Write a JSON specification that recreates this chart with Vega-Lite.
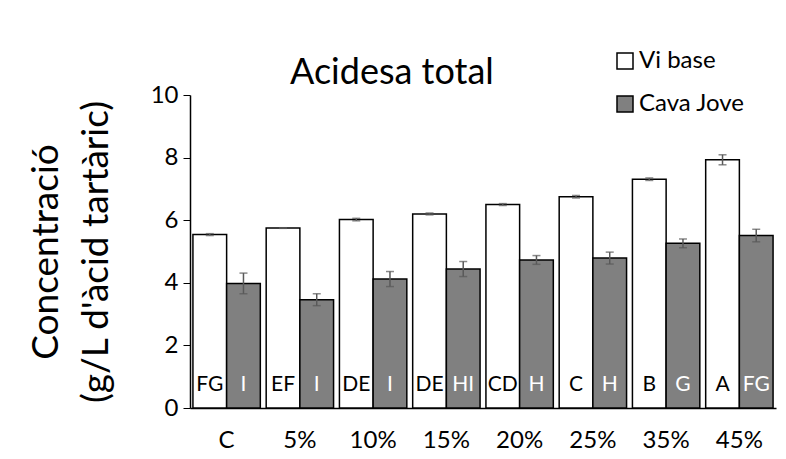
{
  "$schema": "https://vega.github.io/schema/vega-lite/v6.json",
  "width": 586,
  "height": 313,
  "autosize": "none",
  "padding": {"left": 190, "top": 95, "right": 10, "bottom": 51},
  "background": "white",
  "config": {"font": "Lato", "view": {"stroke": null}},
  "title": {"text": "Acidesa total", "fontSize": 36, "fontWeight": "normal", "anchor": "start", "frame": "group", "dx": 100, "dy": 55, "offset": 12, "color": "black"},
  "data": {"values": [
    {"cat": "C", "serie": "Vi base", "value": 5.54, "lo": 5.51, "hi": 5.57, "letter": "FG"},
    {"cat": "C", "serie": "Cava Jove", "value": 3.98, "lo": 3.65, "hi": 4.31, "letter": "I"},
    {"cat": "5%", "serie": "Vi base", "value": 5.75, "lo": 5.74, "hi": 5.76, "letter": "EF"},
    {"cat": "5%", "serie": "Cava Jove", "value": 3.46, "lo": 3.27, "hi": 3.65, "letter": "I"},
    {"cat": "10%", "serie": "Vi base", "value": 6.02, "lo": 5.98, "hi": 6.06, "letter": "DE"},
    {"cat": "10%", "serie": "Cava Jove", "value": 4.12, "lo": 3.88, "hi": 4.36, "letter": "I"},
    {"cat": "15%", "serie": "Vi base", "value": 6.20, "lo": 6.17, "hi": 6.23, "letter": "DE"},
    {"cat": "15%", "serie": "Cava Jove", "value": 4.44, "lo": 4.20, "hi": 4.68, "letter": "HI"},
    {"cat": "20%", "serie": "Vi base", "value": 6.50, "lo": 6.47, "hi": 6.53, "letter": "CD"},
    {"cat": "20%", "serie": "Cava Jove", "value": 4.73, "lo": 4.59, "hi": 4.87, "letter": "H"},
    {"cat": "25%", "serie": "Vi base", "value": 6.75, "lo": 6.71, "hi": 6.79, "letter": "C"},
    {"cat": "25%", "serie": "Cava Jove", "value": 4.79, "lo": 4.60, "hi": 4.98, "letter": "H"},
    {"cat": "35%", "serie": "Vi base", "value": 7.31, "lo": 7.27, "hi": 7.35, "letter": "B"},
    {"cat": "35%", "serie": "Cava Jove", "value": 5.26, "lo": 5.12, "hi": 5.40, "letter": "G"},
    {"cat": "45%", "serie": "Vi base", "value": 7.93, "lo": 7.77, "hi": 8.09, "letter": "A"},
    {"cat": "45%", "serie": "Cava Jove", "value": 5.51, "lo": 5.31, "hi": 5.71, "letter": "FG"}
  ]},
  "encoding": {
    "x": {"field": "cat", "type": "nominal", "sort": ["C", "5%", "10%", "15%", "20%", "25%", "35%", "45%"],
      "scale": {"paddingInner": 0.08, "paddingOuter": 0.04},
      "axis": {"title": null, "labelAngle": 0, "ticks": false, "labelFontSize": 24, "labelPadding": 20, "domainColor": "black", "domainWidth": 1.5, "labelColor": "black"}},
    "xOffset": {"field": "serie", "type": "nominal", "sort": ["Vi base", "Cava Jove"]}
  },
  "layer": [
    {
      "mark": {"type": "bar", "stroke": "black", "strokeWidth": 1.5},
      "encoding": {
        "y": {"field": "value", "type": "quantitative", "scale": {"domain": [0, 10]},
          "axis": {"values": [0, 2, 4, 6, 8, 10], "grid": false, "labelFontSize": 24, "labelColor": "black", "tickColor": "black", "tickSize": 7, "domainColor": "black", "domainWidth": 1.5, "labelPadding": 5,
            "title": ["Concentració", "(g/L d'àcid tartàric)"], "titleFontSize": 37, "titleFontWeight": "normal", "titleColor": "black", "titleLineHeight": 50, "titlePadding": 35}},
        "fill": {"field": "serie", "type": "nominal", "scale": {"domain": ["Vi base", "Cava Jove"], "range": ["white", "#808080"]},
          "legend": {"orient": "none", "legendX": 423, "legendY": -46, "title": null, "symbolType": "square", "symbolSize": 256, "symbolStrokeColor": "black", "symbolStrokeWidth": 1.5, "labelFontSize": 24, "labelColor": "black", "rowPadding": 19, "labelOffset": 2}}
      }
    },
    {
      "mark": {"type": "rule", "color": "#595959", "strokeWidth": 1.5},
      "encoding": {"y": {"field": "lo", "type": "quantitative"}, "y2": {"field": "hi"}}
    },
    {
      "mark": {"type": "tick", "color": "#595959", "thickness": 1.5, "size": 8},
      "encoding": {"y": {"field": "lo", "type": "quantitative"}}
    },
    {
      "mark": {"type": "tick", "color": "#595959", "thickness": 1.5, "size": 8},
      "encoding": {"y": {"field": "hi", "type": "quantitative"}}
    },
    {
      "mark": {"type": "text", "fontSize": 21, "baseline": "middle"},
      "encoding": {
        "y": {"datum": 0.72},
        "text": {"field": "letter"},
        "color": {"field": "serie", "type": "nominal", "scale": {"domain": ["Vi base", "Cava Jove"], "range": ["black", "white"]}, "legend": null}
      }
    }
  ]
}
